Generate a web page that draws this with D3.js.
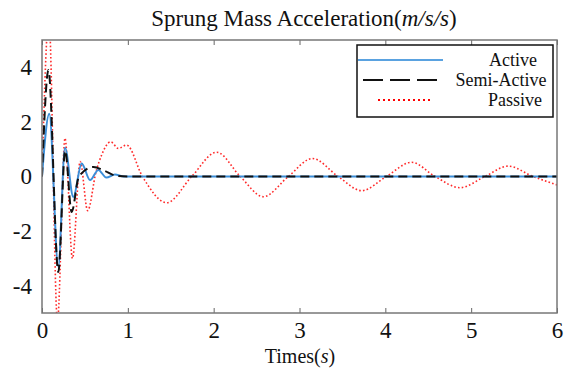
<!DOCTYPE html>
<html lang="en">
<head>
<meta charset="UTF-8">
<title>Sprung Mass Acceleration</title>
<script src="https://d3js.org/d3.v7.min.js"></script>
<style>
    body { margin: 0; background: #fff; }
    svg text { font-family: "Liberation Serif", "Times New Roman", serif; fill: #111; }
</style>
</head>
<body>
<div id="chart"></div>
<script>
    // time (s), acceleration (m/s/s)
    const activeData = [
        [0, 0], [0.085, 2.3], [0.19, -3.3], [0.268, 1.05], [0.365, -0.75],
        [0.462, 0.48], [0.56, -0.13], [0.656, 0.24], [0.75, -0.04], [0.85, 0.07],
        [0.95, 0], [6, 0]
    ];
    const semiData = [
        [0, 0], [0.075, 3.9], [0.19, -3.5], [0.27, 0.95], [0.345, -1.3],
        [0.43, 0], [0.6, 0.35], [0.72, 0.22], [0.86, 0.03], [1.0, 0], [6, 0]
    ];
    const passiveData = [
        [0, 0], [0.08, 5.8], [0.18, -5.3], [0.268, 1.4], [0.355, -3.0],
        [0.445, 0.55], [0.532, -1.25], [0.63, 0.18], [0.695, 0.79], [0.80, 1.27],
        [0.889, 1.03], [0.986, 1.15], [1.17, 0], [1.453, -0.96], [1.744, 0],
        [2.035, 0.89], [2.31, 0], [2.578, -0.74], [2.87, 0], [3.15, 0.66],
        [3.45, 0], [3.725, -0.52], [4.01, 0], [4.307, 0.52], [4.58, 0],
        [4.87, -0.41], [5.16, 0], [5.43, 0.38], [5.72, 0], [6.0, -0.31]
    ];
    const xTicks = [0, 1, 2, 3, 4, 5, 6];
    const yTicks = [-4, -2, 0, 2, 4];
    const legendNames = ["Active", "Semi-Active", "Passive"];

    const width = 568, height = 370;
    const margin = { top: 40, right: 11, bottom: 57, left: 42 };
    const plotW = width - margin.left - margin.right;
    const plotH = height - margin.top - margin.bottom;

    const svg = d3.select("#chart").append("svg")
        .attr("width", width).attr("height", height);

    const g = svg.append("g")
        .attr("transform", `translate(${margin.left},${margin.top})`);

    const x = d3.scaleLinear().domain([0, 6]).range([0, plotW]);
    const y = d3.scaleLinear().domain([-5, 5]).range([plotH, 0]);

    g.append("clipPath").attr("id", "clip")
        .append("rect").attr("width", plotW).attr("height", plotH);

    const line = d3.line()
        .x(d => x(d[0]))
        .y(d => y(d[1]))
        .curve(d3.curveMonotoneX);

    const series = [
        { data: passiveData, color: "#ff2a2a", width: 1.6, dash: "1.6,2.2" },
        { data: activeData, color: "#3b8ed8", width: 2, dash: null },
        { data: semiData, color: "#111", width: 2, dash: "9,5" }
    ];

    const lines = g.append("g").attr("clip-path", "url(#clip)");
    series.forEach(s => {
        lines.append("path")
            .datum(s.data)
            .attr("d", line)
            .attr("fill", "none")
            .attr("stroke", s.color)
            .attr("stroke-width", s.width)
            .attr("stroke-dasharray", s.dash);
    });

    // plain hyphen for negatives, like the original
    const fmt = d => String(d);

    // axes: x ticks inward on bottom and top
    const xAxisB = g.append("g")
        .attr("transform", `translate(0,${plotH})`)
        .call(d3.axisBottom(x).tickValues(xTicks).tickFormat(fmt)
            .tickSizeInner(-5).tickSizeOuter(0).tickPadding(9));
    const xAxisT = g.append("g")
        .call(d3.axisTop(x).tickValues(xTicks).tickSizeInner(-5).tickSizeOuter(0).tickFormat(""));
    const yAxis = g.append("g")
        .call(d3.axisLeft(y).tickValues(yTicks).tickFormat(fmt)
            .tickSize(0).tickPadding(10));

    [xAxisB, xAxisT, yAxis].forEach(a => {
        a.attr("font-family", null).attr("font-size", null);
        a.select(".domain").remove();
        a.selectAll("line").attr("stroke", "#666").attr("stroke-width", 1);
        a.selectAll("text")
            .style("font-family", "'Liberation Serif', serif")
            .style("font-size", "23px")
            .attr("fill", "#111");
    });

    // frame
    g.append("rect")
        .attr("width", plotW).attr("height", plotH)
        .attr("fill", "none")
        .attr("stroke", "#777")
        .attr("stroke-width", 1.5);

    // title
    const title = svg.append("text")
        .attr("x", 304).attr("y", 26)
        .attr("text-anchor", "middle")
        .style("font-size", "23px");
    title.append("tspan").text("Sprung Mass Acceleration(");
    title.append("tspan").style("font-style", "italic").text("m/s/s");
    title.append("tspan").text(")");

    const xLabel = svg.append("text")
        .attr("x", 300).attr("y", 363)
        .attr("text-anchor", "middle")
        .style("font-size", "20px");
    xLabel.append("tspan").text("Times(");
    xLabel.append("tspan").style("font-style", "italic").text("s");
    xLabel.append("tspan").text(")");

    // legend
    const legend = svg.append("g").attr("transform", "translate(357,45)");
    legend.append("rect")
        .attr("width", 196).attr("height", 72)
        .attr("fill", "#fff")
        .attr("stroke", "#111")
        .attr("stroke-width", 1.5);

    const legendStyles = [
        { x1: 1, x2: 86, color: "#5aa2e0", width: 2, dash: null, tx: 156 },
        { x1: 6, x2: 83, color: "#111", width: 2, dash: "20,7", tx: 144 },
        { x1: 21, x2: 75, color: "#ff0000", width: 2, dash: "2,3", tx: 158 }
    ];
    legendNames.forEach((name, i) => {
        const ly = 15 + i * 20;
        const st = legendStyles[i];
        legend.append("line")
            .attr("x1", st.x1).attr("x2", st.x2)
            .attr("y1", ly).attr("y2", ly)
            .attr("stroke", st.color)
            .attr("stroke-width", st.width)
            .attr("stroke-dasharray", st.dash);
        legend.append("text")
            .attr("x", st.tx).attr("y", ly + 6)
            .attr("text-anchor", "middle")
            .style("font-size", "18px")
            .text(name);
    });
</script>
</body>
</html>
